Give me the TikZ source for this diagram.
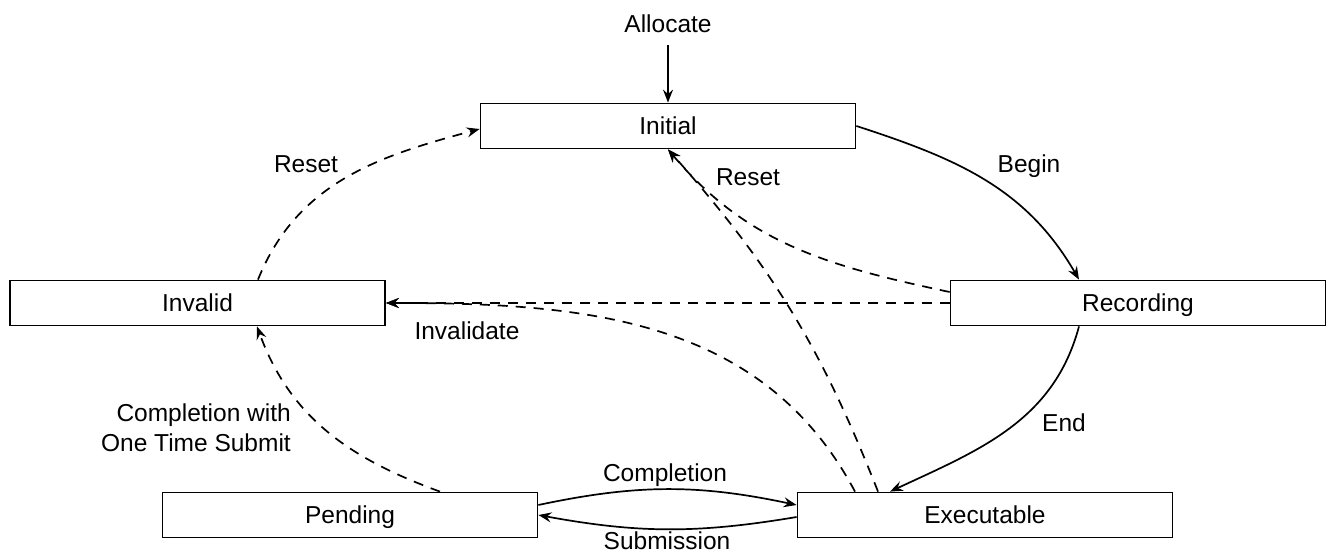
\documentclass[tikz,border=0pt]{standalone}
\usepackage{fontspec}
\setmainfont{Liberation Sans}
\usetikzlibrary{arrows.meta}

\begin{document}
\begin{tikzpicture}[x=1pt,y=1pt,
  every node/.style={font=\fontsize{24.5}{30}\selectfont},
  state/.style={draw, line width=1.8pt, minimum width=375pt, minimum height=45pt,
                inner sep=0pt, text height=17.6pt, text depth=0pt},
  lbl/.style={inner sep=0pt, anchor=base},
  trans/.style={line width=1.7pt, -{Stealth[length=13pt,width=10pt,inset=4.5pt]}},
  soft/.style={trans, dash pattern=on 10pt off 8pt}]
\useasboundingbox (0,0) rectangle (1327,552);

% command buffer states
\node[state] (init)  at (668,426)   {Initial};
\node[state] (inval) at (197.5,249) {Invalid};
\node[state] (rec)   at (1138,249)  {Recording};
\node[state] (pend)  at (350,37)    {Pending};
\node[state] (exec)  at (985,37)    {Executable};

% entry point
\node[lbl] (alloc) at (668,519) {Allocate};
\draw[trans, shorten <=12pt] (alloc.south) -- (init.north);

% recording cycle
\draw[trans] (init.east) to[out=-18, in=120] ([xshift=-59pt]rec.north);
\draw[trans] ([xshift=-59pt]rec.south) to[out=-105, in=25] ([xshift=-95pt]exec.north);

% resets back to Initial
\draw[soft] ([xshift=60.5pt]inval.north) to[out=68, in=-165] ([yshift=-3pt]init.west);
\draw[soft] ([xshift=-107pt]exec.north) to[bend right=10] (init.south);
\draw[soft] ([yshift=11pt]rec.west) to[out=168, in=-50] (init.south);

% invalidation
\draw[soft] (rec.west) -- (inval.east);
\draw[soft] ([xshift=-130pt]exec.north) to[out=118, in=0] (inval.east);
\draw[soft] ([xshift=90pt]pend.north) to[out=160, in=-70] ([xshift=59.5pt]inval.south);

% submission and completion
\draw[trans] ([yshift=10pt]pend.east) to[bend left=12] ([yshift=10pt]exec.west);
\draw[trans] ([yshift=-2pt]exec.west) to[bend left=10] (pend.east);

% transition labels
\node[lbl] (lbegin) at (1029,379) {Begin};
\node[lbl] (lend)   at (1064,121) {End};
\node[lbl] (lres1)  at (306,379)  {Reset};
\node[lbl] (lres2)  at (748,366)  {Reset};
\node[lbl] (linv)   at (467,213)  {Invalidate};
\node[inner sep=0pt, align=right, anchor=south east] (lone) at (291,100)
  {Completion with\\One Time Submit};
\node[lbl] (lcomp)  at (665,71)   {Completion};
\node[lbl] (lsub)   at (667,3)    {Submission};
\end{tikzpicture}
\end{document}
